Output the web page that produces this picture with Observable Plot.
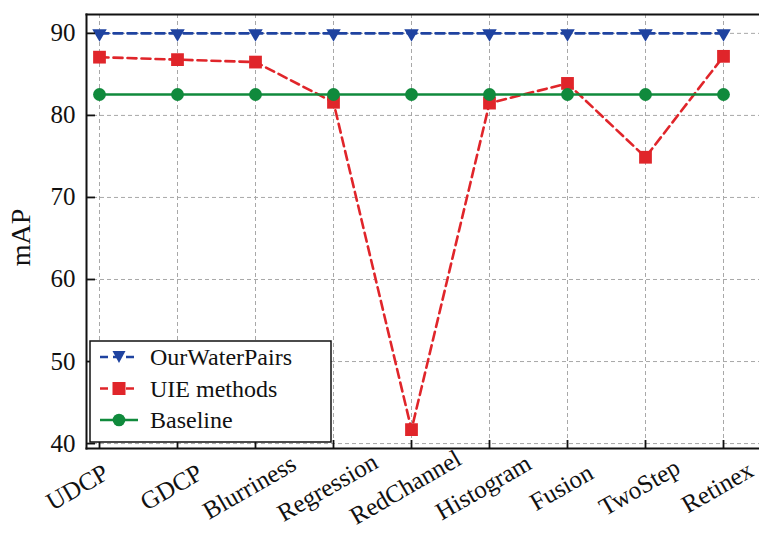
<!DOCTYPE html>
<html>
<head>
<meta charset="utf-8">
<script src="https://cdn.jsdelivr.net/npm/d3@7"></script>
<script src="https://cdn.jsdelivr.net/npm/@observablehq/plot@0.6"></script>
<style>
  html, body { margin: 0; padding: 0; background: #fff; }
  #chart svg { display: block; }
  #chart svg, #chart svg text { font-family: 'Liberation Serif', 'DejaVu Serif', serif !important; }
</style>
</head>
<body>
<div id="chart"></div>
<script>
const methods = ["UDCP", "GDCP", "Blurriness", "Regression", "RedChannel", "Histogram", "Fusion", "TwoStep", "Retinex"];
const ourWaterPairs = [90, 90, 90, 90, 90, 90, 90, 90, 90];
const uieMethods = [87.1, 86.8, 86.5, 81.6, 41.7, 81.5, 83.9, 74.9, 87.2];
const baseline = [82.55, 82.55, 82.55, 82.55, 82.55, 82.55, 82.55, 82.55, 82.55];
const yTicks = [40, 50, 60, 70, 80, 90];
const seriesNames = ["OurWaterPairs", "UIE methods", "Baseline"];

const BLUE = "#1f43a0", RED = "#e0252a", GREEN = "#108a3c";
const FONT = "'Liberation Serif', 'DejaVu Serif', serif";

const rows = (vals, name) => methods.map((m, i) => ({method: m, value: vals[i], series: name}));
const blue = rows(ourWaterPairs, seriesNames[0]);
const red = rows(uieMethods, seriesNames[1]);
const green = rows(baseline, seriesNames[2]);

const W = 759, H = 534, mL = 86, mT = 14, mB = 86, mR = 0;
const fw = W - mL - mR, fh = H - mT - mB;

function legend(index, scales, values, dims) {
  const g = d3.create("svg:g").attr("text-anchor", "start");
  const x0 = 90, y0 = 341, w = 241, h = 101;
  g.append("rect").attr("x", x0).attr("y", y0).attr("width", w).attr("height", h)
    .attr("fill", "white").attr("stroke", "#111").attr("stroke-width", 1.5);
  const items = [
    {name: seriesNames[0], color: BLUE, dash: "8,5", sym: "tri"},
    {name: seriesNames[1], color: RED, dash: "8,5", sym: "sq"},
    {name: seriesNames[2], color: GREEN, dash: null, sym: "circ"}
  ];
  items.forEach((it, i) => {
    const y = 357 + i * 31.5;
    const ln = g.append("line").attr("x1", 100).attr("x2", 138).attr("y1", y).attr("y2", y)
      .attr("stroke", it.color).attr("stroke-width", 2.5);
    if (it.dash) ln.attr("stroke-dasharray", it.dash).attr("stroke-dashoffset", 0);
    const cx = 119;
    if (it.sym === "tri") g.append("path").attr("d", `M${cx-6.5},${y-6}L${cx+6.5},${y-6}L${cx},${y+6}Z`).attr("fill", it.color);
    else if (it.sym === "sq") g.append("rect").attr("x", cx-6.5).attr("y", y-6.5).attr("width", 13).attr("height", 13).attr("fill", it.color);
    else g.append("circle").attr("cx", cx).attr("cy", y).attr("r", 6.3).attr("fill", it.color);
    g.append("text").attr("x", 150).attr("y", y).attr("dy", "0.35em").attr("text-anchor", "start")
      .attr("font-family", FONT).attr("font-size", 24).attr("fill", "#111").text(it.name);
  });
  return g.node();
}

const labelStyle = {text: d => d, x: d => d, frameAnchor: "bottom", rotate: -30, textAnchor: "middle", lineAnchor: "middle", fontSize: 25, fill: "#111", fontFamily: FONT};

const plot = Plot.plot({
  width: W, height: H,
  marginLeft: mL, marginTop: mT, marginBottom: mB, marginRight: mR,
  style: {fontFamily: FONT, background: "white", overflow: "visible"},
  x: {type: "point", domain: methods, range: [98, 724], padding: 0, axis: null},
  y: {domain: [39.4, 92.3], axis: null},
  marks: [
    Plot.gridX(methods, {stroke: "#a8a8a8", strokeOpacity: 1, strokeDasharray: "4,3", strokeWidth: 1}),
    Plot.gridY(yTicks, {stroke: "#a8a8a8", strokeOpacity: 1, strokeDasharray: "4,3", strokeWidth: 1}),
    Plot.line(blue, {x: "method", y: "value", stroke: BLUE, strokeWidth: 2.6, strokeDasharray: "9,5"}),
    Plot.dot(blue, {x: "method", y: "value", symbol: "triangle", rotate: 180, r: 5.4, fill: BLUE}),
    Plot.line(red, {x: "method", y: "value", stroke: RED, strokeWidth: 2.6, strokeDasharray: "9,5"}),
    Plot.dot(red, {x: "method", y: "value", symbol: "square", r: 7.2, fill: RED}),
    Plot.line(green, {x: "method", y: "value", stroke: GREEN, strokeWidth: 2.6}),
    Plot.dot(green, {x: "method", y: "value", symbol: "circle", r: 6.4, fill: GREEN}),
    Plot.ruleY(yTicks, {y: d => d, stroke: "#111", strokeWidth: 1.8, insetRight: fw - 9}),
    Plot.ruleX(methods, {x: d => d, stroke: "#111", strokeWidth: 1.8, insetTop: fh - 8}),
    Plot.frame({anchor: "left", stroke: "#111", strokeWidth: 2}),
    Plot.frame({anchor: "top", stroke: "#111", strokeWidth: 2}),
    Plot.frame({anchor: "bottom", stroke: "#111", strokeWidth: 2}),
    Plot.axisY(yTicks, {tickSize: 0, tickPadding: 11, fontSize: 25, fill: "#111", label: null, fontFamily: FONT}),
    Plot.text(methods.slice(1), {...labelStyle, dx: -6, dy: 39}),
    Plot.text(methods.slice(0, 1), {...labelStyle, dx: -22, dy: 39}),
    Plot.text(["mAP"], {text: d => d, frameAnchor: "left", dx: -65, dy: 6, rotate: -90, textAnchor: "middle", lineAnchor: "middle", fontSize: 28, fill: "#111", fontFamily: FONT}),
    legend
  ]
});
document.getElementById("chart").appendChild(plot);
</script>
</body>
</html>
